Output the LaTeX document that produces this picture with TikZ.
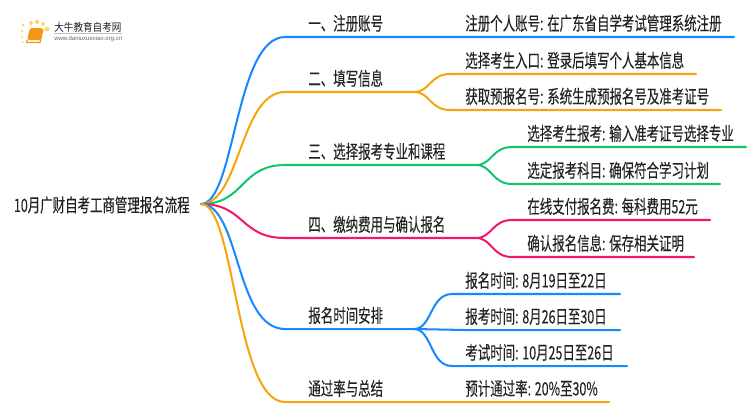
\documentclass[tikz,border=0pt]{standalone}
\usepackage{fontspec}
\setmainfont[FakeStretch=0.675, FakeBold=0.15]{Noto Sans CJK SC}
\newfontfamily\logofont[FakeStretch=0.88]{Noto Sans CJK SC}
\newfontfamily\urlfont{Liberation Sans}
\usepackage{tikz}
\definecolor{lineblue}{RGB}{24, 136, 255}
\definecolor{lineorange}{RGB}{245, 166, 15}
\definecolor{linegreen}{RGB}{20, 196, 110}
\definecolor{linepink}{RGB}{245, 20, 110}
\definecolor{inkdark}{RGB}{34, 34, 34}
\definecolor{logoorange}{RGB}{245, 150, 20}
\definecolor{logodot}{RGB}{253, 214, 110}

\begin{document}
\begin{tikzpicture}[x=0.02cm, y=-0.02cm,
  txt/.style={anchor=south west, inner xsep=0, inner ysep=2.7pt, text=inkdark, font=\fontsize{10.5pt}{12pt}\selectfont},
  branch/.style={line width=1.15pt, line cap=round}
]
  \useasboundingbox (0, 0) rectangle (750, 410);

  % logo
  \fill[logodot] (23, 25) circle (1.7) (31, 23) circle (2) (37, 22) circle (2.2)
    (43, 24) circle (2) (47, 29) circle (2.4)
    (22, 31) circle (1.4) (22, 37) circle (1.2) (23, 42) circle (1);
  \fill[logoorange, rounded corners=1] (30, 28) -- (43, 28) -- (41, 40) -- (27, 40) -- cycle;
  \draw[logoorange, line width=0.7pt] (27, 40) -- (26.5, 42.5) -- (40, 42.5) -- (43, 29);
  \node[anchor=west, inner sep=0, text=inkdark, font=\fontsize{6.2pt}{7pt}\logofont] (logotitle) at (54, 27) {大牛教育自考网};
  \draw[gray!50, line width=0.3pt] (54, 33.5) -- (122, 33.5);
  \node[anchor=west, inner sep=0, text=black!60, font=\fontsize{3.4pt}{4pt}\urlfont] (logourl) at (54, 39) {www.daniuxuexiao.org.cn};

  \node[anchor=east, inner sep=0, text=inkdark, font=\fontsize{10.5pt}{12pt}\selectfont] (root) at (190, 205) {10月广财自考工商管理报名流程};
  \coordinate (hub) at (201, 204);

  \node[txt] (a) at (308, 37) {一、注册账号};
  \node[txt] (a1) at (465, 37) {注册个人账号: 在广东省自学考试管理系统注册};
  \node[txt] (b) at (308, 92) {二、填写信息};
  \node[txt] (b1) at (465, 74) {选择考生入口: 登录后填写个人基本信息};
  \node[txt] (b2) at (465, 110) {获取预报名号: 系统生成预报名号及准考证号};
  \node[txt] (c) at (308, 165) {三、选择报考专业和课程};
  \node[txt] (c1) at (527, 147) {选择考生报考: 输入准考证号选择专业};
  \node[txt] (c2) at (527, 184) {选定报考科目: 确保符合学习计划};
  \node[txt] (d) at (308, 238) {四、缴纳费用与确认报名};
  \node[txt] (d1) at (527, 220) {在线支付报名费: 每科费用52元};
  \node[txt] (d2) at (527, 257) {确认报名信息: 保存相关证明};
  \node[txt] (e) at (308, 329) {报名时间安排};
  \node[txt] (e1) at (465, 294) {报名时间: 8月19日至22日};
  \node[txt] (e2) at (465, 330) {报考时间: 8月26日至30日};
  \node[txt] (e3) at (465, 366) {考试时间: 10月25日至26日};
  \node[txt] (f) at (308, 402) {通过率与总结};
  \node[txt] (f1) at (465, 402) {预计通过率: 20\%至30\%};

  \coordinate (a1end) at (734, 37);
  \coordinate (b1end) at (696, 74);
  \coordinate (b2end) at (721, 110);
  \coordinate (c1end) at (746, 147);
  \coordinate (c2end) at (720, 184);
  \coordinate (d1end) at (710, 220);
  \coordinate (d2end) at (694, 257);
  \coordinate (e1end) at (620, 294);
  \coordinate (e2end) at (620, 330);
  \coordinate (e3end) at (627, 366);
  \coordinate (f1end) at (609, 402);

  % main branches
  \draw[branch, lineblue] (hub) .. controls (235, 204) and (235, 37) .. (285, 37) -- (a.south west) -- (a1.south west) -- (a1end);
  \draw[branch, lineorange] (hub) .. controls (240, 204) and (240, 92) .. (285, 92) -- (b.south west) -- (414, 92);
  \draw[branch, linegreen] (hub) .. controls (245, 204) and (240, 165) .. (285, 165) -- (c.south west) -- (476, 165);
  \draw[branch, linepink] (hub) .. controls (245, 204) and (240, 238) .. (285, 238) -- (d.south west) -- (476, 238);
  \draw[branch, lineblue] (hub) .. controls (240, 204) and (235, 329) .. (285, 329) -- (e.south west) -- (414, 329);
  \draw[branch, lineorange] (hub) .. controls (235, 204) and (235, 402) .. (285, 402) -- (f.south west) -- (f1.south west) -- (f1end);

  % children
  \draw[branch, lineorange] (414, 92) .. controls (430, 92) and (430, 74) .. (450, 74) -- (b1.south west) -- (b1end);
  \draw[branch, lineorange] (414, 92) .. controls (430, 92) and (430, 110) .. (450, 110) -- (b2.south west) -- (b2end);
  \draw[branch, linegreen] (476, 165) .. controls (492, 165) and (492, 147) .. (512, 147) -- (c1.south west) -- (c1end);
  \draw[branch, linegreen] (476, 165) .. controls (492, 165) and (492, 184) .. (512, 184) -- (c2.south west) -- (c2end);
  \draw[branch, linepink] (476, 238) .. controls (492, 238) and (492, 220) .. (512, 220) -- (d1.south west) -- (d1end);
  \draw[branch, linepink] (476, 238) .. controls (492, 238) and (492, 257) .. (512, 257) -- (d2.south west) -- (d2end);
  \draw[branch, lineblue] (414, 329) .. controls (432, 329) and (430, 294) .. (452, 294) -- (e1.south west) -- (e1end);
  \draw[branch, lineblue] (414, 329) -- (e2.south west) -- (e2end);
  \draw[branch, lineblue] (414, 329) .. controls (432, 329) and (430, 366) .. (452, 366) -- (e3.south west) -- (e3end);
\end{tikzpicture}
\end{document}
